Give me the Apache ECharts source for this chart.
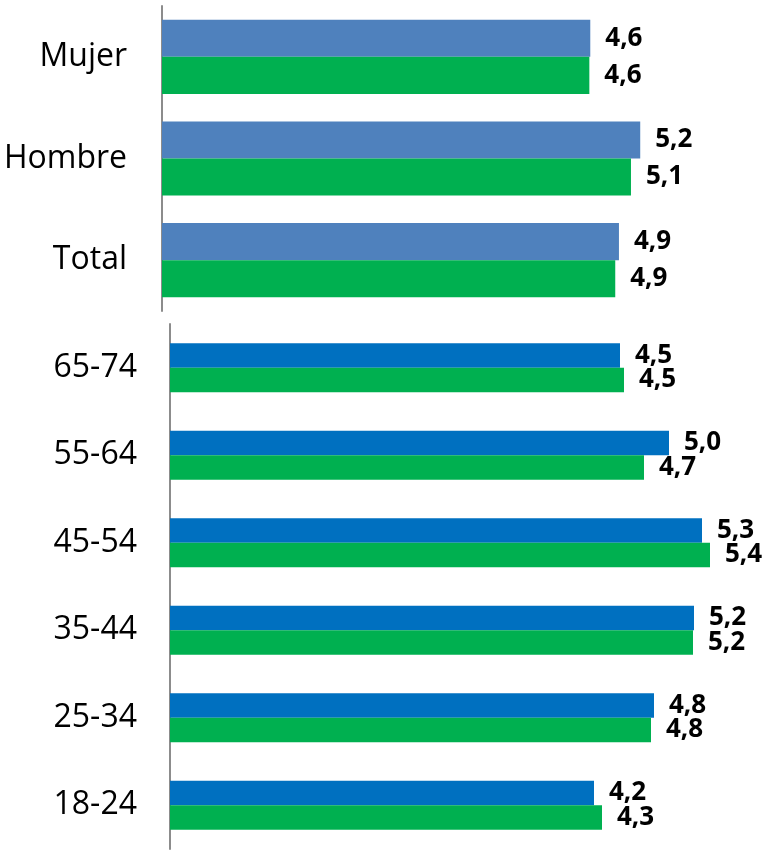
<!DOCTYPE html>
<html>
<head>
<meta charset="utf-8">
<script src="https://cdn.jsdelivr.net/npm/echarts@6/dist/echarts.min.js"></script>
<style>
	html, body { margin: 0; padding: 0; background: #fff; }
	#main { width: 781px; height: 851px; }
</style>
</head>
<body>
<div id="main"></div>
<script>
// categorias (de abajo hacia arriba)
var sexoCats = ["Total", "Hombre", "Mujer"];
var edadCats = ["18-24", "25-34", "35-44", "45-54", "55-64", "65-74"];

// valores
var sexoAzul = [4.94, 5.17, 4.63];
var sexoVerde = [4.90, 5.07, 4.62];
var edadAzul = [4.24, 4.84, 5.24, 5.32, 4.99, 4.50];
var edadVerde = [4.32, 4.81, 5.23, 5.40, 4.74, 4.54];

var chart = echarts.init(document.getElementById('main'));

// 4.6 -> "4,6"
function fmt(p) {
	return p.value.toFixed(1).replace('.', ',');
}

var labelStyle = {
	show: true,
	position: 'right',
	distance: 15,
	color: '#000',
	fontFamily: 'Open Sans',
	fontWeight: 'bold',
	fontSize: 26,
	formatter: fmt
};

function catAxis(idx, data, margin) {
	return {
		type: 'category',
		gridIndex: idx,
		data: data,
		axisLine: { show: true, lineStyle: { color: '#8c8c8c', width: 2 } },
		axisTick: { show: false },
		axisLabel: {
			margin: margin,
			color: '#000',
			fontFamily: 'Open Sans',
			fontSize: 32
		}
	};
}

function valAxis(idx) {
	return {
		type: 'value',
		gridIndex: idx,
		min: 0,
		max: 6,
		show: false,
		splitLine: { show: false }
	};
}

var option = {
	animation: false,
	grid: [
		{ left: 162, top: 6, width: 555, height: 305 },
		{ left: 170, top: 324, width: 600, height: 525 }
	],
	xAxis: [valAxis(0), valAxis(1)],
	yAxis: [catAxis(0, sexoCats, 35), catAxis(1, edadCats, 33)],
	series: [
		// el primero se dibuja arriba
		{
			type: 'bar', xAxisIndex: 0, yAxisIndex: 0,
			data: sexoAzul,
			itemStyle: { color: '#4F81BD' },
			barGap: '0%', barCategoryGap: '27%',
			label: labelStyle
		},
		{
			type: 'bar', xAxisIndex: 0, yAxisIndex: 0,
			data: sexoVerde,
			itemStyle: { color: '#00B050' },
			barGap: '0%', barCategoryGap: '27%',
			label: labelStyle
		},
		{
			type: 'bar', xAxisIndex: 1, yAxisIndex: 1,
			data: edadAzul,
			itemStyle: { color: '#0070C0' },
			barGap: '0%', barCategoryGap: '44%',
			label: labelStyle
		},
		{
			type: 'bar', xAxisIndex: 1, yAxisIndex: 1,
			data: edadVerde,
			itemStyle: { color: '#00B050' },
			barGap: '0%', barCategoryGap: '44%',
			label: labelStyle
		}
	]
};

chart.setOption(option);
</script>
</body>
</html>
